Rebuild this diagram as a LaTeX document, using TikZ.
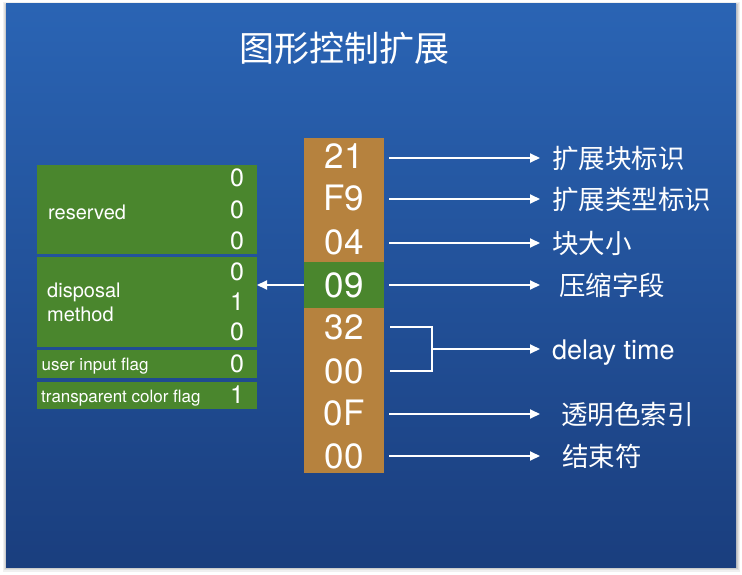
\documentclass[tikz,border=0pt]{standalone}
\usepackage{fontspec}
\setmainfont{TeX Gyre Heros}
\newfontfamily\cjk{Noto Sans CJK SC}
\usetikzlibrary{arrows.meta}
\definecolor{slideTop}{RGB}{42,100,180}
\definecolor{slideBot}{RGB}{26,62,126}
\definecolor{cellBrown}{RGB}{182,130,62}
\definecolor{cellGreen}{RGB}{74,134,45}
\tikzset{
  cell/.style={rectangle, fill=cellBrown, minimum width=80pt, inner sep=0pt, outer sep=0pt},
  gcell/.style={cell, fill=cellGreen},
  gbox/.style={rectangle, fill=cellGreen, minimum width=220pt, inner sep=0pt, outer sep=0pt},
  bigdigit/.style={anchor=base, text=white, inner sep=0pt, font=\fontsize{35}{40}\selectfont},
  smalldigit/.style={anchor=base, text=white, inner sep=0pt, font=\fontsize{25}{30}\selectfont},
  boxlabel/.style={anchor=base west, text=white, inner sep=0pt, font=\fontsize{20}{24}\selectfont},
  flaglabel/.style={anchor=base west, text=white, inner sep=0pt, font=\fontsize{17}{20}\selectfont},
  cjklabel/.style={anchor=west, text=white, inner sep=0pt, font=\cjk\fontsize{26.5}{30}\selectfont},
  wline/.style={draw=white, line width=2pt},
  arr/.style={wline, -{Triangle[length=10pt,width=9pt]}},
}
\begin{document}
\begin{tikzpicture}[x=1pt,y=-1pt]
\useasboundingbox (0,0) rectangle (742,575);
% page and shadow
\fill[white] (0,0) rectangle (742,575);
\fill[black!6] (3,2) rectangle (740,572);
\fill[black!12] (4,3) rectangle (739,570);
\fill[black!20] (5,4) rectangle (737.5,568.5);
\shade[top color=slideTop, bottom color=slideBot] (6,4) rectangle (736,567);
% title
\node[text=white, inner sep=0pt, font=\cjk\fontsize{35}{40}\selectfont] (title) at (344,48) {图形控制扩展};
% byte column
\node[cell, minimum height=41.33pt] (c1) at (344,158.67) {};
\node[cell, minimum height=41.33pt] (c2) at (344,200) {};
\node[cell, minimum height=41.33pt] (c3) at (344,241.33) {};
\node[gcell, minimum height=46pt] (c4) at (344,285) {};
\node[cell, minimum height=41.33pt] (c5) at (344,328.67) {};
\node[cell, minimum height=41.33pt] (c6) at (344,370) {};
\node[cell, minimum height=41.33pt] (c7) at (344,411.33) {};
\node[cell, minimum height=41.33pt] (c8) at (344,452.67) {};
\node[bigdigit] (t1) at (344,168) {21};
\node[bigdigit] (t2) at (344,211) {F9};
\node[bigdigit] (t3) at (344,254) {04};
\node[bigdigit] (t4) at (344,297) {09};
\node[bigdigit] (t5) at (344,339) {32};
\node[bigdigit] (t6) at (344,383) {00};
\node[bigdigit] (t7) at (344,425) {0F};
\node[bigdigit] (t8) at (344,468) {00};
% right labels
\node[cjklabel] (l1) at (552,158) {扩展块标识};
\node[cjklabel] (l2) at (552,199) {扩展类型标识};
\node[cjklabel] (l3) at (552,243) {块大小};
\node[cjklabel] (l4) at (559,285) {压缩字段};
\node[anchor=base west, text=white, inner sep=0pt, font=\fontsize{27}{32}\selectfont] (l5) at (552,359) {delay time};
\node[cjklabel] (l7) at (561,414) {透明色索引};
\node[cjklabel] (l8) at (562,456) {结束符};
% arrows
\draw[arr] ([xshift=5pt]c1.east |- l1.west) -- (540,0 |- l1.west);
\draw[arr] ([xshift=5pt]c2.east |- l2.west) -- (540,0 |- l2.west);
\draw[arr] ([xshift=5pt]c3.east |- l3.west) -- (540,0 |- l3.west);
\draw[arr] ([xshift=5pt]c4.east |- l4.west) -- (540,0 |- l4.west);
\draw[arr] ([xshift=5pt]c7.east |- l7.west) -- (540,0 |- l7.west);
\draw[arr] ([xshift=5pt]c8.east |- l8.west) -- (540,0 |- l8.west);
\coordinate (bx) at (432,349);
\draw[wline] ([xshift=6pt]c5.east |- 0,327.3) -| (bx) |- ([xshift=6pt]c6.east |- 0,371);
\draw[arr] (bx) -- (540,349);
% left panel
\node[gbox, minimum height=88.7pt] (res) at (147,209.35) {};
\node[gbox, minimum height=89.7pt] (disp) at (147,301.85) {};
\node[gbox, minimum height=27.7pt] (uif) at (147,363.85) {};
\node[gbox, minimum height=27.6pt] (tcf) at (147,395.5) {};
\node[boxlabel] (resl) at (48,219) {reserved};
\node[boxlabel] (displ1) at (47,297.3) {disposal};
\node[boxlabel] (displ2) at (47,321.7) {method};
\node[flaglabel] (uifl) at (41.5,370.7) {user input flag};
\node[flaglabel] (tcfl) at (41,402.7) {transparent color flag};
\node[smalldigit] (b1) at (237,186.7) {0};
\node[smalldigit] (b2) at (237,218.3) {0};
\node[smalldigit] (b3) at (237,249) {0};
\node[smalldigit] (b4) at (237,280) {0};
\node[smalldigit] (b5) at (237,310) {1};
\node[smalldigit] (b6) at (237,340.7) {0};
\node[smalldigit] (b7) at (237,372.7) {0};
\node[smalldigit] (b8) at (237,403.7) {1};
\draw[arr] (c4.west) -- (disp.east |- c4.west);
\end{tikzpicture}
\end{document}
